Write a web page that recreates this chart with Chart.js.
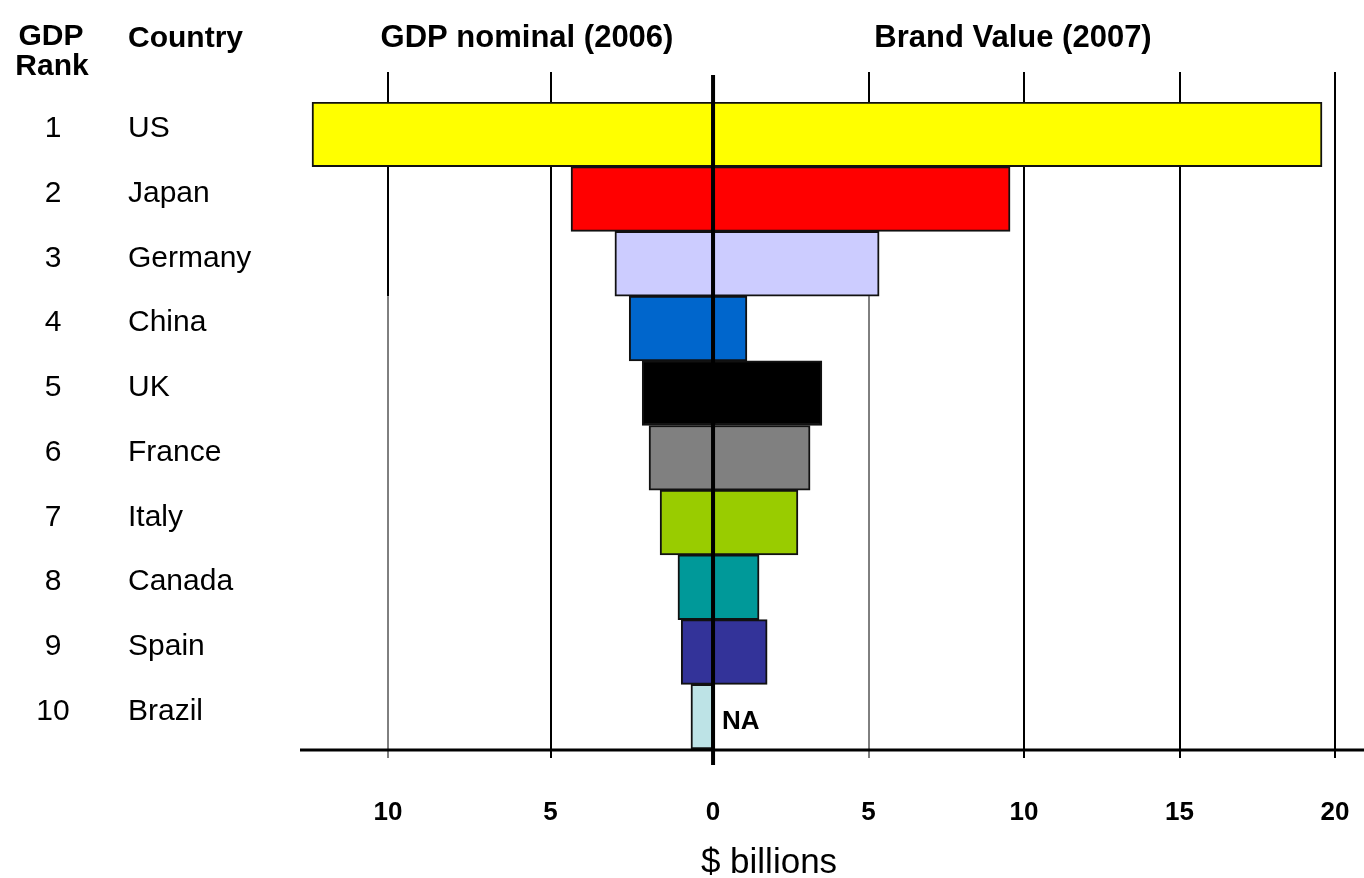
<!DOCTYPE html>
<html>
<head>
<meta charset="utf-8">
<script src="https://cdn.jsdelivr.net/npm/chart.js@4.4.0/dist/chart.umd.min.js"></script>
<style>
  html, body { margin: 0; padding: 0; background: #fff; }
  #wrap { width: 1364px; height: 878px; position: relative; }
</style>
</head>
<body>
<div id="wrap"><canvas id="gdp-brand-chart"></canvas></div>
<script>
const ranks = ['1', '2', '3', '4', '5', '6', '7', '8', '9', '10'];
const countries = ['US', 'Japan', 'Germany', 'China', 'UK', 'France', 'Italy', 'Canada', 'Spain', 'Brazil'];
const gdpNominal = [12.34, 4.37, 3.02, 2.58, 2.18, 1.97, 1.63, 1.08, 0.98, 0.68];
const brandValue = [19.58, 9.55, 5.34, 1.09, 3.50, 3.12, 2.73, 1.48, 1.74, null];
const barColors = ['#FFFF00', '#FF0000', '#CCCCFF', '#0066CC', '#000000', '#808080', '#99CC00', '#009999', '#333399', '#BDE3E6'];
const gdpTicks = [10, 5, 0];
const brandTicks = [5, 10, 15, 20];

const FONT = '"Liberation Sans", Arial, sans-serif';

function line(ctx, x1, y1, x2, y2, w) {
    ctx.beginPath();
    ctx.lineWidth = w;
    ctx.moveTo(x1, y1);
    ctx.lineTo(x2, y2);
    ctx.stroke();
}

// grid lines behind the bars, everything else on top
const framePlugin = {
    id: 'frame',
    beforeDatasetsDraw(chart) {
        const { ctx, chartArea, scales } = chart;
        const top = chartArea.top - 30;
        const bottom = chartArea.bottom + 9;
        // lower part of these two lines is thinner in the original
        const splitY = scales.y.getPixelForValue(2) + (scales.y.getPixelForValue(1) - scales.y.getPixelForValue(0)) / 2;
        ctx.save();
        ctx.strokeStyle = '#000';
        const drawGrid = (x, split) => {
            if (split) {
                line(ctx, x, top, x, splitY, 2);
                line(ctx, x, splitY, x, bottom, 1);
            } else {
                line(ctx, x, top, x, bottom, 2);
            }
        };
        gdpTicks.filter(v => v !== 0).forEach(v => drawGrid(Math.round(scales.xL.getPixelForValue(-v)), v === 10));
        brandTicks.forEach(v => drawGrid(Math.round(scales.xR.getPixelForValue(v)), v === 5));
        ctx.restore();
    },
    afterDatasetsDraw(chart) {
        const { ctx, chartArea, scales } = chart;
        const zeroX = scales.xL.getPixelForValue(0);
        ctx.save();
        ctx.strokeStyle = '#000';
        ctx.fillStyle = '#000';

        // centre line and bottom axis
        line(ctx, zeroX, chartArea.top - 27, zeroX, chartArea.bottom + 16, 4);
        line(ctx, chartArea.left, chartArea.bottom + 1, chartArea.right, chartArea.bottom + 1, 3);

        // bottom tick labels
        ctx.font = 'bold 26px ' + FONT;
        ctx.textAlign = 'center';
        ctx.textBaseline = 'alphabetic';
        gdpTicks.forEach(v => ctx.fillText(String(v), scales.xL.getPixelForValue(-v), chartArea.bottom + 71));
        brandTicks.forEach(v => ctx.fillText(String(v), scales.xR.getPixelForValue(v), chartArea.bottom + 71));

        ctx.font = '35px ' + FONT;
        ctx.fillText('$ billions', 769, chartArea.bottom + 124);

        // NA marker for missing brand values
        ctx.font = 'bold 26px ' + FONT;
        ctx.textAlign = 'left';
        brandValue.forEach((v, i) => {
            if (v === null) ctx.fillText('NA', zeroX + 9, scales.y.getPixelForValue(i) + 12);
        });

        // row labels
        ctx.font = '30px ' + FONT;
        countries.forEach((c, i) => {
            const y = scales.y.getPixelForValue(i) + 3;
            ctx.textAlign = 'center';
            ctx.fillText(ranks[i], 53, y);
            ctx.textAlign = 'left';
            ctx.fillText(c, 128, y);
        });

        // headers
        ctx.font = 'bold 30px ' + FONT;
        ctx.textAlign = 'center';
        ctx.fillText('GDP', 51, 45);
        ctx.fillText('Rank', 52, 75);
        ctx.textAlign = 'left';
        ctx.fillText('Country', 128, 47);
        ctx.font = 'bold 31px ' + FONT;
        ctx.textAlign = 'center';
        ctx.fillText('GDP nominal (2006)', 527, 47);
        ctx.fillText('Brand Value (2007)', 1013, 47);
        ctx.restore();
    }
};

function renderChart() {
    const ctx = document.getElementById('gdp-brand-chart');
    if (!ctx) return;

    const barStyle = {
        backgroundColor: barColors,
        borderColor: '#111',
        borderWidth: 2,
        borderSkipped: false,
        grouped: false,
        barPercentage: 1,
        categoryPercentage: 1
    };

    new Chart(ctx, {
        type: 'bar',
        data: {
            labels: countries,
            datasets: [
                Object.assign({ label: 'GDP nominal (2006)', data: gdpNominal.map(v => -v), xAxisID: 'xL' }, barStyle),
                Object.assign({ label: 'Brand Value (2007)', data: brandValue, xAxisID: 'xR' }, barStyle)
            ]
        },
        options: {
            indexAxis: 'y',
            responsive: true,
            maintainAspectRatio: false,
            animation: false,
            layout: {
                padding: { left: 300, top: 102, right: 0, bottom: 129 }
            },
            plugins: {
                legend: { display: false },
                tooltip: { enabled: false }
            },
            scales: {
                y: { type: 'category', display: false, offset: true },
                // the two halves were drawn at slightly different scales
                xL: { type: 'linear', display: false, min: -12.71, max: 20.03 },
                xR: { type: 'linear', display: false, min: -13.28, max: 20.93 }
            }
        },
        plugins: [framePlugin]
    });
}

renderChart();
</script>
</body>
</html>
